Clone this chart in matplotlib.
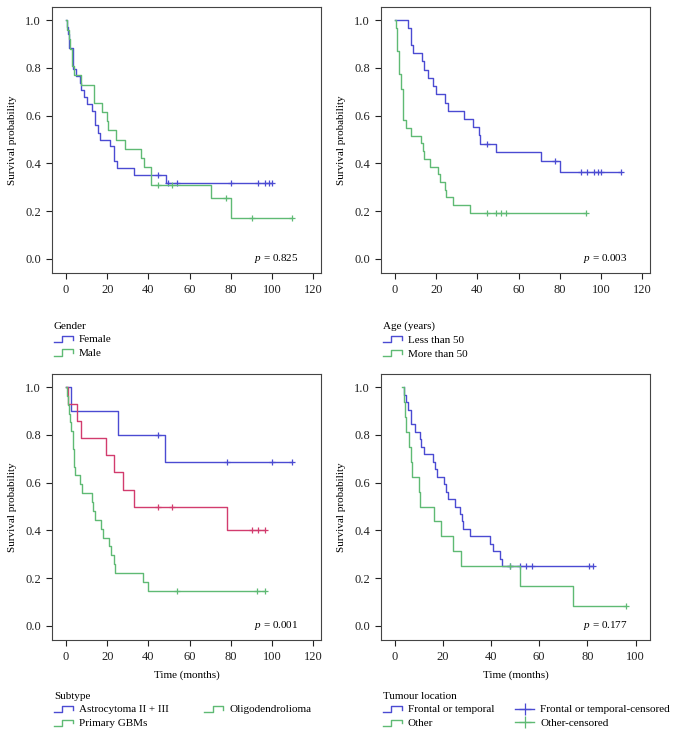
import matplotlib
matplotlib.use("Agg")
import matplotlib.pyplot as plt
from matplotlib.lines import Line2D
from matplotlib.legend_handler import HandlerBase

plt.rcParams['font.family'] = ['Liberation Serif', 'DejaVu Serif']
plt.rcParams['mathtext.fontset'] = 'custom'
plt.rcParams['mathtext.it'] = 'Liberation Serif:italic'
plt.rcParams['mathtext.rm'] = 'Liberation Serif'

BLUE = '#4b4bd2'
GREEN = '#5fba74'
RED = '#d23c6e'

# ---------------- Panel 1: Gender ----------------
female_t = [0, 0.5, 1.0, 1.5, 3.5, 5.0, 7.0, 7.5, 8.5, 10, 12.5, 14, 15.5, 16.5, 21.5, 23.5, 25, 33, 48.5]
female_s = [1, 0.97, 0.94, 0.882, 0.794, 0.765, 0.735, 0.706, 0.676, 0.647, 0.618, 0.559, 0.529, 0.5, 0.471, 0.412, 0.382, 0.353, 0.32]
female_end = 100
female_cens_t = [44.5, 49.5, 54, 80, 93, 96.5, 98.5, 100]
female_cens_s = [0.353, 0.32, 0.32, 0.32, 0.32, 0.32, 0.32, 0.32]

male_t = [0, 0.5, 1.5, 2.0, 3.0, 3.8, 7.5, 13.5, 17.5, 20, 20.5, 24.5, 28.5, 36.5, 38, 41.5, 70.5, 80]
male_s = [1, 0.96, 0.92, 0.88, 0.81, 0.77, 0.73, 0.654, 0.615, 0.577, 0.538, 0.5, 0.462, 0.423, 0.385, 0.308, 0.256, 0.171]
male_end = 109.5
male_cens_t = [44.5, 51.5, 77.5, 90.5, 109.5]
male_cens_s = [0.308, 0.308, 0.256, 0.171, 0.171]

# ---------------- Panel 2: Age ----------------
young_t = [0, 6.5, 7.7, 8.8, 13.1, 14.3, 16.1, 18.4, 19.8, 24.1, 25.6, 33.6, 38.1, 40.7, 41.5, 49, 70.8, 80]
young_s = [1, 0.966, 0.897, 0.862, 0.828, 0.793, 0.759, 0.724, 0.69, 0.655, 0.62, 0.586, 0.552, 0.517, 0.483, 0.446, 0.408, 0.363]
young_end = 109.5
young_cens_t = [44.5, 77.5, 90.5, 93, 96.6, 98.5, 100, 109.5]
young_cens_s = [0.483, 0.408, 0.363, 0.363, 0.363, 0.363, 0.363, 0.363]

old_t = [0, 0.5, 1.2, 1.8, 2.8, 3.7, 5.3, 7.6, 12.6, 13.5, 14.3, 16.8, 20.9, 21.9, 24.1, 24.6, 28.1, 36.6]
old_s = [1, 0.968, 0.87, 0.774, 0.71, 0.58, 0.548, 0.516, 0.484, 0.452, 0.419, 0.387, 0.355, 0.323, 0.29, 0.258, 0.226, 0.194]
old_end = 92.8
old_cens_t = [44.5, 49, 51.5, 54, 92.8]
old_cens_s = [0.194, 0.194, 0.194, 0.194, 0.194]

# ---------------- Panel 3: Subtype ----------------
astro_t = [0, 2.4, 25.1, 48]
astro_s = [1, 0.9, 0.8, 0.686]
astro_end = 109.5
astro_cens_t = [44.5, 78, 100, 109.5]
astro_cens_s = [0.8, 0.686, 0.686, 0.686]

oligo_t = [0, 0.8, 5.2, 7.1, 19.5, 23.5, 27.9, 32.9, 78.2]
oligo_s = [1, 0.929, 0.857, 0.786, 0.714, 0.643, 0.571, 0.5, 0.4]
oligo_end = 96.5
oligo_cens_t = [44.5, 51.5, 90.5, 93, 96.5]
oligo_cens_s = [0.5, 0.5, 0.4, 0.4, 0.4]

gbm_t = [0, 0.3, 0.8, 1.3, 2.0, 2.6, 3.2, 3.5, 3.7, 4.2, 6.8, 7.6, 12.5, 13.0, 14.3, 17.0, 18.2, 20.8, 21.7, 23.5, 24.0, 37.3, 39.7]
gbm_s = [1, 0.963, 0.926, 0.889, 0.852, 0.815, 0.778, 0.741, 0.667, 0.63, 0.593, 0.556, 0.519, 0.481, 0.444, 0.407, 0.37, 0.333, 0.296, 0.259, 0.222, 0.185, 0.148]
gbm_end = 96.5
gbm_cens_t = [54, 92.5, 96.5]
gbm_cens_s = [0.148, 0.148, 0.148]

# ---------------- Panel 4: Tumour location ----------------
front_t = [3.7, 4.0, 4.6, 5.5, 6.6, 8.4, 10.7, 10.9, 12.2, 16.1, 16.8, 17.6, 20.4, 21.1, 22.0, 25.1, 27.1, 27.8, 28.5, 31.4, 39.5, 40.7, 43.6, 44.7]
front_s = [1, 0.969, 0.938, 0.906, 0.844, 0.812, 0.781, 0.75, 0.719, 0.688, 0.656, 0.625, 0.594, 0.562, 0.531, 0.5, 0.469, 0.438, 0.406, 0.375, 0.344, 0.312, 0.281, 0.25]
front_end = 82.5
front_cens_t = [47.8, 52, 54.5, 57, 80.7, 82.5]
front_cens_s = [0.25, 0.25, 0.25, 0.25, 0.25, 0.25]

other_t = [3.0, 3.9, 4.4, 4.8, 5.8, 6.8, 7.1, 10.0, 10.4, 16.3, 19.1, 24.1, 27.4, 52, 74]
other_s = [1, 0.938, 0.875, 0.812, 0.75, 0.688, 0.625, 0.562, 0.5, 0.438, 0.375, 0.312, 0.25, 0.167, 0.083]
other_end = 96
other_cens_t = [47.8, 96]
other_cens_s = [0.25, 0.083]

p_values = ['0.825', '0.003', '0.001', '0.177']
legend_titles = ['Gender', 'Age (years)', 'Subtype', 'Tumour location']


class StepHandler(HandlerBase):
    def create_artists(self, legend, orig_handle, xdescent, ydescent, width, height, fontsize, trans):
        x0 = -xdescent
        y0 = -ydescent
        xs = [x0, x0 + width * 0.45, x0 + width * 0.45, x0 + width, x0 + width]
        ys = [y0 + height * 0.05, y0 + height * 0.05, y0 + height * 0.85, y0 + height * 0.85, y0 + height * 0.35]
        ln = Line2D(xs, ys, color=orig_handle.get_color(), lw=1.0)
        ln.set_transform(trans)
        return [ln]


fig = plt.figure(figsize=(6.78, 7.37), dpi=100)
W, H = 678, 737


def mkax(l, t, r, b):
    return fig.add_axes([l / W, 1 - b / H, (r - l) / W, (b - t) / H])


axes = [mkax(52, 7, 321, 273), mkax(381, 7, 650, 273),
        mkax(52, 374, 321, 640), mkax(381, 374, 650, 640)]

curves = [
    [(female_t, female_s, female_end, female_cens_t, female_cens_s, BLUE),
     (male_t, male_s, male_end, male_cens_t, male_cens_s, GREEN)],
    [(young_t, young_s, young_end, young_cens_t, young_cens_s, BLUE),
     (old_t, old_s, old_end, old_cens_t, old_cens_s, GREEN)],
    [(astro_t, astro_s, astro_end, astro_cens_t, astro_cens_s, BLUE),
     (oligo_t, oligo_s, oligo_end, oligo_cens_t, oligo_cens_s, RED),
     (gbm_t, gbm_s, gbm_end, gbm_cens_t, gbm_cens_s, GREEN)],
    [(front_t, front_s, front_end, front_cens_t, front_cens_s, BLUE),
     (other_t, other_s, other_end, other_cens_t, other_cens_s, GREEN)],
]

for i, ax in enumerate(axes):
    for (t, s, end, ct, cs, col) in curves[i]:
        ax.step(list(t) + [end], list(s) + [s[-1]], where='post', color=col, lw=1.0)
        ax.plot(ct, cs, ls='none', marker='+', ms=5, mew=0.9, color=col)
    if i == 3:
        ax.set_xlim(-5.7, 106)
        ax.set_xticks([0, 20, 40, 60, 80, 100])
    else:
        ax.set_xlim(-6.8, 123.8)
        ax.set_xticks([0, 20, 40, 60, 80, 100, 120])
    ax.set_ylim(-0.059, 1.055)
    ax.set_yticks([0, 0.2, 0.4, 0.6, 0.8, 1.0])
    ax.set_yticklabels(['0.0', '0.2', '0.4', '0.6', '0.8', '1.0'])
    ax.tick_params(direction='out', length=4, width=0.8, labelsize=9, colors='#222222', pad=4)
    for sp in ax.spines.values():
        sp.set_color('#444444')
        sp.set_linewidth(0.8)
    ax.set_ylabel('Survival probability', fontsize=8, labelpad=6)
    if i >= 2:
        ax.set_xlabel('Time (months)', fontsize=8, labelpad=5)
    ax.text(0.918, 0.053, r'$\it{p}$ = ' + p_values[i], transform=ax.transAxes,
            ha='right', va='center', fontsize=8)

# legends
leg_handles = [
    ([Line2D([], [], color=BLUE), Line2D([], [], color=GREEN)], ['Female', 'Male'], 1, 2.0),
    ([Line2D([], [], color=BLUE), Line2D([], [], color=GREEN)], ['Less than 50', 'More than 50'], 1, 2.0),
    ([Line2D([], [], color=BLUE), Line2D([], [], color=GREEN), Line2D([], [], color=GREEN)],
     ['Astrocytoma II + III', 'Primary GBMs', 'Oligodendrolioma'], 2, 3.2),
    ([Line2D([], [], color=BLUE), Line2D([], [], color=GREEN),
      Line2D([], [], color=BLUE, marker='+', ms=9, mew=0.9, lw=1.0),
      Line2D([], [], color=GREEN, marker='+', ms=9, mew=0.9, lw=1.0)],
     ['Frontal or temporal', 'Other', 'Frontal or temporal-censored', 'Other-censored'], 2, 1.9),
]

for i, ax in enumerate(axes):
    hs, labs, nc, cspace = leg_handles[i]
    hmap = {h: StepHandler() for h in hs if h.get_marker() in ('None', None, '')}
    yoff = -0.166 if i < 2 else -0.178
    ax.legend(hs, labs, loc='upper left', bbox_to_anchor=(-0.01, yoff), ncol=nc,
              frameon=False, title=legend_titles[i], fontsize=8, title_fontsize=8,
              handlelength=1.7, handletextpad=0.55, labelspacing=0.35,
              columnspacing=cspace, alignment='left', borderaxespad=0,
              handler_map=hmap)

fig.savefig('out.png', dpi=100)
